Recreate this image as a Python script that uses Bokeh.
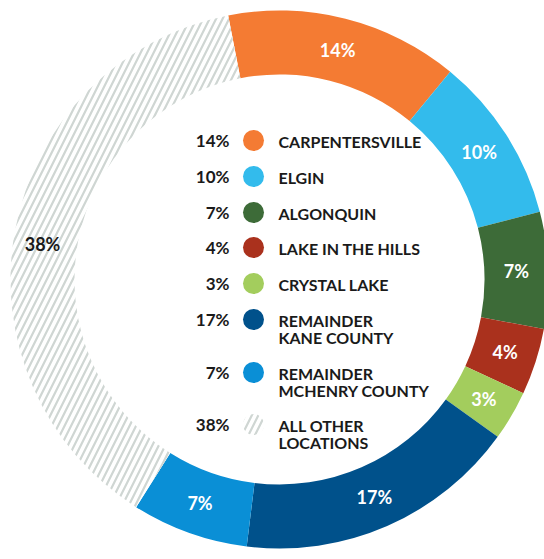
import numpy as np
from bokeh.plotting import figure
from bokeh.models import Range1d
from bokeh.core.properties import value
from bokeh.embed import file_html
from bokeh.resources import INLINE

# ---- data ----
categories = ["CARPENTERSVILLE", "ELGIN", "ALGONQUIN", "LAKE IN THE HILLS",
              "CRYSTAL LAKE", "REMAINDER\nKANE COUNTY",
              "REMAINDER\nMCHENRY COUNTY", "ALL OTHER\nLOCATIONS"]
shares = [14, 10, 7, 4, 3, 17, 7, 38]
colors = ["#F47B33", "#33BBEC", "#3D6B38", "#AA311D",
          "#A3CD5D", "#00518B", "#0A8FD6", "#FFFFFF"]
pct_labels = [f"{s}%" for s in shares]

# ---- layout (screen px -> data) ----
W, H = 544, 559
def sx(x): return x
def sy(y): return H - y

cx, cy = sx(279), sy(279)
r_out, r_in = 269, 205
start_deg = -11.0  # clockwise from 12 o'clock

cum = np.cumsum([0] + shares)
phi0 = start_deg + cum[:-1] * 3.6
phi1 = start_deg + cum[1:] * 3.6
a0 = np.radians(90 - phi0)
a1 = np.radians(90 - phi1)
mid = np.radians(90 - (phi0 + phi1) / 2)

p = figure(width=W, height=H, output_backend="svg", toolbar_location=None,
           x_range=Range1d(0, W), y_range=Range1d(0, H),
           x_axis_type=None, y_axis_type=None, min_border=0,
           outline_line_color=None, background_fill_color="white")
p.grid.visible = False

HATCH = dict(hatch_pattern="/", hatch_color="#CFD6D3", hatch_scale=13, hatch_weight=2.2)

n = len(shares)
solid = list(range(n - 1))
p.annular_wedge(x=[cx] * len(solid), y=[cy] * len(solid), inner_radius=r_in, outer_radius=r_out,
                start_angle=[a0[i] for i in solid], end_angle=[a1[i] for i in solid],
                direction="clock", fill_color=[colors[i] for i in solid], line_color=None)
# hatched "all other"
p.annular_wedge(x=[cx], y=[cy], inner_radius=r_in, outer_radius=r_out,
                start_angle=[a0[-1]], end_angle=[a1[-1]], direction="clock",
                fill_color="white", line_color=None, **HATCH)

FONT = value("Lato")
# ring labels
r_lab = 237
lx = cx + r_lab * np.cos(mid)
ly = cy + r_lab * np.sin(mid)
p.text(x=list(lx[:-1]), y=list(ly[:-1]), text=pct_labels[:-1], text_color="white",
       text_font=FONT, text_font_style="bold", text_font_size="18px",
       text_align="center", text_baseline="middle")
p.text(x=[lx[-1] - 4], y=[ly[-1] - 8], text=[pct_labels[-1]], text_color="#1a1a1a",
       text_font=FONT, text_font_style="bold", text_font_size="18px",
       text_align="center", text_baseline="middle")

# legend
row_y = [140, 176, 212, 247, 283, 319, 372, 424]
ys = [sy(v) for v in row_y]
p.text(x=[sx(229)] * n, y=ys, text=pct_labels, text_color="#1a1a1a",
       text_font=FONT, text_font_style="bold", text_font_size="17px",
       text_align="right", text_baseline="middle")
p.scatter(x=[sx(253)] * (n - 1), y=ys[:-1], size=21, marker="circle",
          fill_color=colors[:-1], line_color=None)
p.scatter(x=[sx(253)], y=[ys[-1]], size=21, marker="circle", fill_color="white",
          line_color=None, **HATCH)
p.text(x=[sx(278)] * n, y=[v + 9 for v in ys], text=categories, text_color="#1a1a1a",
       text_font=FONT, text_font_style="bold", text_font_size="16px",
       text_align="left", text_baseline="top", text_line_height=0.92)

open("out.html", "w").write(file_html(p, INLINE))
